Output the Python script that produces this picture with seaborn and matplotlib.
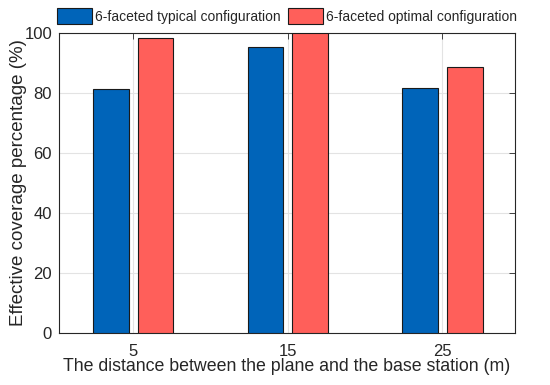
import matplotlib
matplotlib.use("Agg")
import matplotlib.pyplot as plt
import seaborn as sns
import pandas as pd

distances = ["5", "15", "25"]
typical = [81.3, 95.4, 81.5]
optimal = [98.4, 100.0, 88.8]
series_names = ["6-faceted typical configuration", "6-faceted optimal configuration"]

df = pd.DataFrame({
    "distance": distances * 2,
    "value": typical + optimal,
    "series": [series_names[0]] * 3 + [series_names[1]] * 3,
})

sns.set_style("white")
plt.rcParams["font.family"] = ["Liberation Sans", "DejaVu Sans"]

fig = plt.figure(figsize=(5.5, 3.85), dpi=100)
ax = fig.add_axes([59/550, 1 - 333/385, (515-59)/550, (333-33)/385])

sns.barplot(data=df, x="distance", y="value", hue="series", order=distances,
            hue_order=series_names, palette=["#0064B9", "#FF5F5A"],
            width=0.58, gap=0.207, edgecolor="#1a1a1a", linewidth=0.8,
            saturation=1, ax=ax, zorder=3)

ax.set_xlim(-0.48, 2.47)
ax.set_ylim(0, 100)
ax.set_yticks([0, 20, 40, 60, 80, 100])
ax.grid(True, color="#e3e3e3", linewidth=0.8, zorder=0)
ax.set_axisbelow(True)
for s in ax.spines.values():
    s.set_color("#262626")
    s.set_linewidth(0.8)
ax.tick_params(direction="in", top=True, right=True, length=4, width=0.6,
               colors="#262626", labelsize=12, labelcolor="#262626")
ax.tick_params(axis="x", pad=8)
ax.tick_params(axis="y", pad=5)
ax.set_xlabel("The distance between the plane and the base station (m)",
              fontsize=12.8, color="#262626", labelpad=-1)
ax.set_ylabel("Effective coverage percentage (%)", fontsize=13.5, color="#262626", labelpad=-2)

leg = ax.legend(loc="lower center", bbox_to_anchor=(0.5, 1.03), ncol=2, frameon=False,
                fontsize=10, handlelength=2.5, handleheight=1.4, handletextpad=0.25,
                columnspacing=0.5, borderaxespad=0.0, borderpad=0.0)
for t in leg.get_texts():
    t.set_color("#262626")

fig.savefig("out.png", dpi=100)
